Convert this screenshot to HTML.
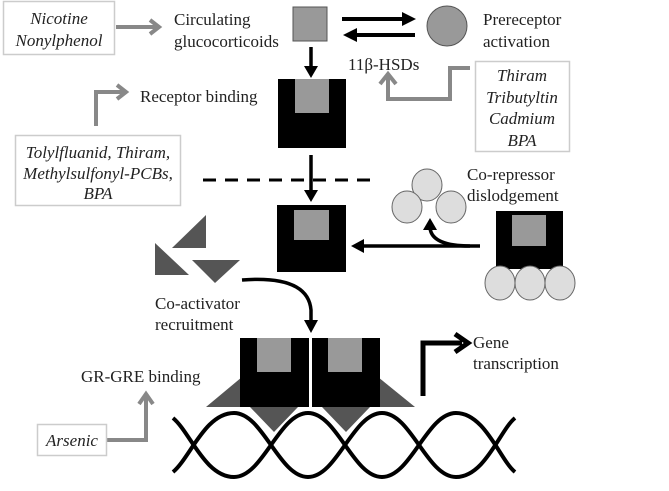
<!DOCTYPE html>
<html><head><style>
html,body{margin:0;padding:0;background:#fff;}
svg{display:block;}
text{font-family:"Liberation Serif",serif;font-size:17px;fill:#222;}
.i{font-style:italic;}
</style></head><body>
<svg width="669" height="491" viewBox="0 0 669 491" xmlns="http://www.w3.org/2000/svg">
<defs>
<marker id="ab" markerWidth="8" markerHeight="8" refX="5" refY="4" orient="auto" markerUnits="userSpaceOnUse"><path d="M0,0 L6,4 L0,8 z" fill="#000"/></marker>
</defs>
<!-- Nicotine box -->
<rect x="3.5" y="1.5" width="111" height="53" fill="#fff" stroke="#ccc" stroke-width="1.5"/>
<text class="i" x="59" y="24" text-anchor="middle">Nicotine</text>
<text class="i" x="59" y="46" text-anchor="middle">Nonylphenol</text>
<path d="M116,27 H158 M150,20 L159,27 L150,34" stroke="#888" stroke-width="4" fill="none"/>
<text x="174" y="25">Circulating</text>
<text x="174" y="47">glucocorticoids</text>
<rect x="293" y="7" width="34" height="34" fill="#999" stroke="#555" stroke-width="1"/>
<!-- exchange arrows -->
<path d="M342,19 H404" stroke="#000" stroke-width="4"/><path d="M402,12 L416,19 L402,26 z" fill="#000"/>
<path d="M355,35 H415" stroke="#000" stroke-width="4"/><path d="M357,28 L343,35 L357,42 z" fill="#000"/>
<ellipse cx="447" cy="26" rx="20" ry="20" fill="#999" stroke="#555" stroke-width="1"/>
<text x="483" y="25">Prereceptor</text>
<text x="483" y="47">activation</text>
<!-- down arrow 1 -->
<path d="M311,47 V68" stroke="#000" stroke-width="3.5"/><path d="M304,66 L311,78 L318,66 z" fill="#000"/>
<text x="348" y="70">11β-HSDs</text>
<!-- thiram elbow -->
<path d="M470,68 H450 V99 H388 V76" stroke="#888" stroke-width="4" fill="none"/>
<path d="M380,84 L388,74 L396,84" stroke="#888" stroke-width="4" fill="none"/>
<rect x="475.5" y="61.5" width="94" height="90" fill="#fff" stroke="#ccc" stroke-width="1.5"/>
<text class="i" x="522" y="81" text-anchor="middle">Thiram</text>
<text class="i" x="522" y="103" text-anchor="middle">Tributyltin</text>
<text class="i" x="522" y="124" text-anchor="middle">Cadmium</text>
<text class="i" x="522" y="146" text-anchor="middle">BPA</text>
<!-- receptor 1 -->
<rect x="278" y="79" width="68" height="69" fill="#000"/>
<rect x="295" y="79" width="34" height="34" fill="#999"/>
<text x="140" y="102">Receptor binding</text>
<path d="M96,126 V92 H124 M117,85 L126,92 L117,99" stroke="#888" stroke-width="4" fill="none"/>
<rect x="15.5" y="135.5" width="165" height="70" fill="#fff" stroke="#ccc" stroke-width="1.5"/>
<text class="i" x="98" y="158" text-anchor="middle">Tolylfluanid, Thiram,</text>
<text class="i" x="98" y="179" text-anchor="middle">Methylsulfonyl-PCBs,</text>
<text class="i" x="98" y="199" text-anchor="middle">BPA</text>
<path d="M203,180 H378" stroke="#000" stroke-width="3" stroke-dasharray="13,9"/>
<path d="M311,155 V192" stroke="#000" stroke-width="3.5"/><path d="M304,190 L311,202 L318,190 z" fill="#000"/>
<!-- receptor 2 -->
<rect x="277" y="205" width="69" height="67" fill="#000"/>
<rect x="294" y="210" width="35" height="30" fill="#999"/>
<!-- co-repressor -->
<g fill="#ddd" stroke="#666" stroke-width="1">
<ellipse cx="427" cy="185" rx="15" ry="16"/>
<ellipse cx="407" cy="207" rx="15" ry="16"/>
<ellipse cx="451" cy="207" rx="15" ry="16"/>
</g>
<text x="467" y="180">Co-repressor</text>
<text x="467" y="201">dislodgement</text>
<rect x="496" y="211" width="67" height="58" fill="#000"/>
<rect x="512" y="215" width="34" height="31" fill="#999"/>
<g fill="#ddd" stroke="#666" stroke-width="1">
<ellipse cx="500" cy="283" rx="15" ry="17"/>
<ellipse cx="530" cy="283" rx="15" ry="17"/>
<ellipse cx="560" cy="283" rx="15" ry="17"/>
</g>
<path d="M480,246 H362" stroke="#000" stroke-width="3.5"/><path d="M364,239 L351,246 L364,253 z" fill="#000"/>
<path d="M470,246 Q432,246 430,228" stroke="#000" stroke-width="3.5" fill="none"/><path d="M423,230 L430,218 L437,230 z" fill="#000"/>
<!-- coactivator triangles -->
<g fill="#555">
<path d="M172,248 L206,215 L206,248 z"/>
<path d="M155,243 L155,275 L189,275 z"/>
<path d="M192,260 L240,260 L215,283 z"/>
</g>
<path d="M242,280 Q308,275 311,310 V322" stroke="#000" stroke-width="3.5" fill="none"/><path d="M304,320 L311,333 L318,320 z" fill="#000"/>
<text x="155" y="309">Co-activator</text>
<text x="155" y="330">recruitment</text>
<!-- dimer -->
<g fill="#555">
<path d="M206,407 L242,377 L242,407 z"/>
<path d="M378,377 L415,407 L378,407 z"/>
</g>
<rect x="240" y="338" width="69" height="69" fill="#000"/>
<rect x="257" y="338" width="34" height="34" fill="#999"/>
<rect x="312" y="338" width="68" height="69" fill="#000"/>
<rect x="328" y="338" width="34" height="34" fill="#999"/>
<!-- DNA -->
<path d="M173,472 C190,458 205,413 234,413 C263,413 279,477 308,477 C337,477 353,413 382,413 C411,413 427,477 456,477 C485,477 500,430 515,418" stroke="#000" stroke-width="4" fill="none"/>
<path d="M173,418 C190,432 205,477 234,477 C263,477 279,413 308,413 C337,413 353,477 382,477 C411,477 427,413 456,413 C485,413 500,460 515,472" stroke="#000" stroke-width="4" fill="none"/>
<g fill="#555">
<path d="M250,407 L298,407 L274,432 z"/>
<path d="M322,407 L370,407 L346,432 z"/>
</g>
<!-- gene transcription -->
<path d="M423,396 V343 H462" stroke="#000" stroke-width="5" fill="none"/>
<path d="M455,334 L468,343 L455,352" stroke="#000" stroke-width="5" fill="none"/>
<text x="473" y="348">Gene</text>
<text x="473" y="369">transcription</text>
<text x="81" y="382">GR-GRE binding</text>
<path d="M107,440 H146 V396 M139,404 L146,394 L153,404" stroke="#888" stroke-width="4" fill="none"/>
<rect x="37.5" y="424.5" width="69" height="31" fill="#fff" stroke="#ccc" stroke-width="1.5"/>
<text class="i" x="72" y="446" text-anchor="middle">Arsenic</text>
</svg>
</body></html>
